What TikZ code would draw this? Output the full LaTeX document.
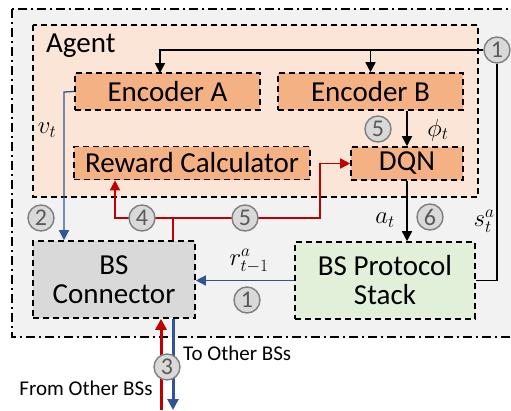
\documentclass[tikz,border=0pt]{standalone}
\usepackage{fontspec}
\setmainfont{Carlito}
\usetikzlibrary{arrows.meta,calc}
\definecolor{outerfill}{HTML}{F2F2F2}
\definecolor{agentfill}{HTML}{FBE5D6}
\definecolor{encfill}{HTML}{F4B183}
\definecolor{connfill}{HTML}{D9D9D9}
\definecolor{stackfill}{HTML}{E2F0D9}
\definecolor{myred}{HTML}{C00000}
\definecolor{myblue}{HTML}{2F5597}
\definecolor{circborder}{HTML}{7F7F7F}
\definecolor{circtext}{HTML}{595959}
\tikzset{
  box/.style={draw=black, line width=1.6pt, dash pattern=on 6pt off 4pt, rectangle, inner sep=0pt, font=\fontsize{29}{31}\selectfont, align=center},
  encbox/.style={box, fill=encfill},
  num/.style={circle, draw=circborder, fill=connfill, line width=1.4pt, minimum size=26pt, inner sep=0pt, text=circtext, font=\fontsize{24}{24}\selectfont},
  lbl/.style={inner sep=0pt, font=\fontsize{25}{27}\selectfont},
  small/.style={inner sep=0pt, font=\fontsize{21}{23}\selectfont},
  arr/.style={line width=1.6pt, -{Triangle[length=10pt,width=10pt]}},
  blk/.style={line width=1.6pt},
}
\begin{document}
\begin{tikzpicture}[x=1pt,y=-1pt]
\useasboundingbox (0,0) rectangle (511,410);
% outer
\draw[fill=outerfill, line width=1.6pt, dash pattern=on 9pt off 4pt on 2pt off 4pt] (12,9) rectangle (518,337);
% agent
\draw[fill=agentfill, line width=1.6pt, dash pattern=on 6pt off 4pt] (33,25) rectangle (478,197);
\node[anchor=west, inner sep=0pt, font=\fontsize{29}{31}\selectfont] (agent) at (46,46) {Agent};
% boxes
\node[encbox, minimum width=185pt, minimum height=37pt] (encA) at (167.5,91.5) {Encoder A};
\node[encbox, minimum width=185pt, minimum height=37pt] (encB) at (370.5,91.5) {Encoder B};
\node[encbox, minimum width=236pt, minimum height=33pt] (rew) at (192,163) {Reward Calculator};
\node[encbox, minimum width=112pt, minimum height=33pt] (dqn) at (407,163.5) {DQN};
\node[box, fill=connfill, minimum width=162pt, minimum height=77pt] (conn) at (114,279.5) {BS\\[-2pt]Connector};
\node[box, fill=stackfill, minimum width=180pt, minimum height=77pt] (stack) at (385,280.5) {BS Protocol\\[-2pt]Stack};
% coordinates
\coordinate (ea) at (160,73);
\coordinate (rj) at (173,218);
\coordinate (rl) at (115,218);
\coordinate (rr) at (320,218);
\coordinate (vb) at (64,92);
\coordinate (botR) at (161,410);
\coordinate (botB) at (173,410);
% circle 1 top
\node[num] (c1t) at (497,50) {1};
% black lines
\draw[arr] (c1t.west) -- (c1t.west -| ea) -- (ea);
\draw[arr] (encB.north |- c1t.west) -- (encB.north);
\draw[blk] (c1t.south) |- (stack.east);
\draw[arr] (encB.south -| dqn.south) -- (dqn.north);
\draw[arr] (dqn.south) -- (dqn.south |- stack.north);
% blue v
\draw[myblue, line width=1.3pt, -{Triangle[length=10pt,width=10pt]}] (encA.west) -- (vb) -- (vb |- conn.north);
% red
\draw[myred, line width=1.6pt] (rj |- conn.north) -- (rj);
\draw[myred, line width=1.6pt, -{Triangle[length=10pt,width=10pt]}] (rj) -- (rl) -- (rl |- rew.south);
\draw[myred, line width=1.6pt, -{Triangle[length=10pt,width=10pt]}] (rj) -- (rr) -- (rr |- dqn.west) -- (dqn.west);
% blue r
\draw[myblue, line width=1.3pt, -{Triangle[length=10pt,width=10pt]}] (stack.west) -- (stack.west -| conn.east);
% bottom
\draw[myred, line width=3pt, -{Triangle[length=11pt,width=11pt]}] (botR) -- (botR |- conn.south);
\draw[myblue, line width=3pt, -{Triangle[length=11pt,width=11pt]}] (botB |- conn.south) -- (botB);
% circles
\node[num] (c5a) at (378,129) {5};
\node[num] (c6) at (430,217) {6};
\node[num] (c2) at (41,218) {2};
\node[num] (c4) at (142,218) {4};
\node[num] (c5b) at (245,218) {5};
\node[num] (c1b) at (247,300) {1};
\node[num] (c3) at (167,367) {3};
% labels
\node[lbl] (lv) at (47,130) {$v_t$};
\node[lbl] (lphi) at (438,130) {$\phi_t$};
\node[lbl] (la) at (385,220) {$a_t$};
\node[lbl] (ls) at (484,221) {$s_t^a$};
\node[lbl] (lr) at (249,261) {$r_{t-1}^a$};
\node[small, anchor=west] (to) at (183,353) {To Other BSs};
\node[small] (from) at (86,388) {From Other BSs};
\end{tikzpicture}
\end{document}
